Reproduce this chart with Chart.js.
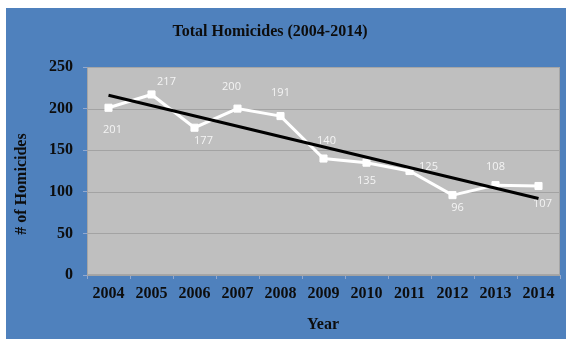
<!DOCTYPE html>
<html>
<head>
<meta charset="utf-8">
<script src="https://cdn.jsdelivr.net/npm/chart.js@4.4.1/dist/chart.umd.min.js"></script>
<style>
  html, body { margin: 0; padding: 0; background: #ffffff; }
  #wrap { position: absolute; left: 6px; top: 8px; width: 560px; height: 331px; background: #4f81bd; }
</style>
</head>
<body>
<div id="wrap"><canvas id="homChart" width="560" height="331"></canvas></div>
<script>
// homicides per year, with the linear trend read at its two ends
const years = ['2004', '2005', '2006', '2007', '2008', '2009', '2010', '2011', '2012', '2013', '2014'];
const homicides = [201, 217, 177, 200, 191, 140, 135, 125, 96, 108, 107];
const trendStart = 216;
const trendEnd = 92;
const yTicks = [0, 50, 100, 150, 200, 250];

const trend = years.map(() => null);
trend[0] = trendStart;
trend[trend.length - 1] = trendEnd;

const serif = 'Liberation Serif, Times New Roman, serif';

// where each value label sits relative to its marker
const labelOffsets = [
    [4, 22], [15, -13], [9, 13], [-6, -22], [0, -23], [3, -18],
    [0, 18], [19, -4], [5, 13], [0, -18], [4, 18]
];

const plotBackground = {
    id: 'plotBackground',
    beforeDatasetsDraw(chart) {
        const {ctx, chartArea: a} = chart;
        ctx.save();
        ctx.fillStyle = '#bfbfbf';
        ctx.fillRect(a.left, a.top, a.right - a.left, a.bottom - a.top);
        // redraw horizontal grid over the fill
        const y = chart.scales.y;
        ctx.strokeStyle = '#a3a3a3';
        ctx.lineWidth = 1;
        yTicks.forEach(v => {
            const py = Math.round(y.getPixelForValue(v)) + 0.5;
            ctx.beginPath();
            ctx.moveTo(a.left, py);
            ctx.lineTo(a.right, py);
            ctx.stroke();
        });
        ctx.strokeStyle = '#a6a6a6';
        ctx.strokeRect(a.left + 0.5, a.top + 0.5, a.right - a.left - 1, a.bottom - a.top - 1);
        ctx.restore();
    }
};

const valueLabels = {
    id: 'valueLabels',
    afterDatasetDraw(chart, args) {
        if (args.index !== 0) return;
        const {ctx} = chart;
        ctx.save();
        ctx.font = '11px "Open Sans", sans-serif';
        ctx.fillStyle = '#f4f4f4';
        ctx.textAlign = 'center';
        ctx.textBaseline = 'middle';
        args.meta.data.forEach((pt, i) => {
            const [dx, dy] = labelOffsets[i];
            ctx.fillText(String(homicides[i]), pt.x + dx, pt.y + dy);
        });
        ctx.restore();
    }
};

const chartTexts = {
    id: 'chartTexts',
    afterDraw(chart) {
        const {ctx} = chart;
        ctx.save();
        ctx.fillStyle = '#0d0d0d';
        ctx.font = 'bold 16px ' + serif;
        ctx.textAlign = 'center';
        ctx.textBaseline = 'middle';
        ctx.fillText('Total Homicides (2004-2014)', 264, 24);
        ctx.fillText('Year', 317, 317);
        ctx.translate(16, 176);
        ctx.rotate(-Math.PI / 2);
        ctx.fillText('# of Homicides', 0, 0);
        ctx.restore();
    }
};

new Chart(document.getElementById('homChart'), {
    type: 'line',
    data: {
        labels: years,
        datasets: [{
            label: 'Homicides',
            data: homicides,
            borderColor: '#ffffff',
            borderWidth: 3,
            pointStyle: 'rect',
            pointRadius: 5,
            pointBackgroundColor: '#ffffff',
            pointBorderColor: '#ffffff',
            pointBorderWidth: 1,
            tension: 0,
            order: 1
        }, {
            label: 'Linear trend',
            data: trend,
            spanGaps: true,
            borderColor: '#000000',
            borderWidth: 3,
            pointRadius: 0,
            order: 0
        }]
    },
    options: {
        responsive: false,
        animation: false,
        layout: { padding: { top: 59, right: 5, left: 0, bottom: 0 } },
        plugins: {
            legend: { display: false },
            tooltip: { enabled: false }
        },
        scales: {
            x: {
                offset: true,
                grid: {
                    offset: true,
                    drawOnChartArea: false,
                    tickLength: 4,
                    color: '#93a9cf'
                },
                border: { display: false },
                ticks: {
                    color: '#0d0d0d',
                    padding: 5,
                    maxRotation: 0,
                    font: { family: serif, size: 16, weight: 'bold' }
                },
                afterFit(scale) { scale.height = 64; }
            },
            y: {
                min: 0,
                max: 250,
                grid: {
                    drawOnChartArea: false,
                    tickLength: 4,
                    color: '#93a9cf'
                },
                border: { display: false },
                ticks: {
                    stepSize: 50,
                    color: '#0d0d0d',
                    padding: 10,
                    font: { family: serif, size: 16, weight: 'bold' }
                },
                afterFit(scale) { scale.width = 81; }
            }
        }
    },
    plugins: [plotBackground, valueLabels, chartTexts]
});
</script>
</body>
</html>
